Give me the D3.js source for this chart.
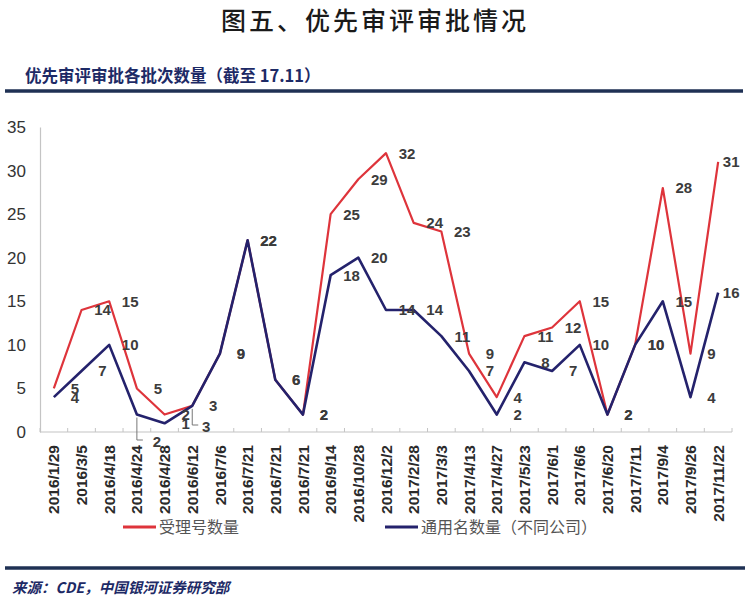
<!DOCTYPE html>
<html>
<head>
<meta charset="utf-8">
<script src="https://cdn.jsdelivr.net/npm/d3@7"></script>
<style>
  body { margin: 0; background: #fff; }
</style>
</head>
<body>
<div class="container"></div>
<script>
var w = 750;
var h = 606;

// batch dates (x categories)
const batches = [
  "2016/1/29", "2016/3/5", "2016/4/18", "2016/4/24", "2016/4/28",
  "2016/6/12", "2016/7/6", "2016/7/21", "2016/7/21", "2016/7/21",
  "2016/9/14", "2016/10/28", "2016/12/2", "2017/2/28", "2017/3/3",
  "2017/4/13", "2017/4/27", "2017/5/23", "2017/6/1", "2017/6/6",
  "2017/6/20", "2017/7/11", "2017/9/4", "2017/9/26", "2017/11/22"
];

// 受理号数量
const acceptCounts = [5, 14, 15, 5, 2, 3, 9, 22, 6, 2, 25, 29, 32, 24, 23, 9, 4, 11, 12, 15, 2, 10, 28, 9, 31];
// 通用名数量（不同公司）
const genericCounts = [4, 7, 10, 2, 1, 3, 9, 22, 6, 2, 18, 20, 14, 14, 11, 7, 2, 8, 7, 10, 2, 10, 15, 4, 16];

const yTicks = [0, 5, 10, 15, 20, 25, 30, 35];

const seriesNames = ["受理号数量", "通用名数量（不同公司）"];

const redColor = "#de343b";
const navyColor = "#24226c";
const labelFont = "'Liberation Sans', Arial, sans-serif";
const cjkFont = "'Noto Sans CJK SC', sans-serif";

var svg = d3
  .select(".container")
  .append("svg")
  .attr("width", w)
  .attr("height", h);

svg.append("rect").attr("width", w).attr("height", h).attr("fill", "#fff");

// title
svg
  .append("text")
  .attr("x", 375)
  .attr("y", 30)
  .attr("text-anchor", "middle")
  .attr("font-family", cjkFont)
  .attr("font-size", 25)
  .attr("font-weight", 500)
  .attr("letter-spacing", 3)
  .attr("fill", "#1a1a1a")
  .text("图五、优先审评审批情况");

// subtitle
svg
  .append("text")
  .attr("x", 25)
  .attr("y", 82)
  .attr("font-family", cjkFont)
  .attr("font-size", 16.5)
  .attr("font-weight", 700)
  .attr("fill", "#1d2a66")
  .text("优先审评审批各批次数量（截至 17.11）");

// heavy rules top / bottom
svg.append("line").attr("x1", 5).attr("x2", 743).attr("y1", 91).attr("y2", 91)
  .attr("stroke", "#1f3154").attr("stroke-width", 3.5);
svg.append("line").attr("x1", 5).attr("x2", 745).attr("y1", 568).attr("y2", 568)
  .attr("stroke", "#1f3154").attr("stroke-width", 3.5);

// source
svg
  .append("text")
  .attr("x", 12)
  .attr("y", 593)
  .attr("font-family", cjkFont)
  .attr("font-size", 14.5)
  .attr("font-style", "italic")
  .attr("font-weight", 700)
  .attr("fill", "#1d2a66")
  .text("来源：CDE，中国银河证券研究部");

// plot area
var plotLeft = 40, plotRight = 732, plotTop = 127, plotBottom = 432;

var xScale = d3.scaleBand()
  .domain(d3.range(batches.length))
  .range([plotLeft, plotRight]);

var yScale = d3.scaleLinear().domain([0, 35]).range([plotBottom, plotTop]);

var cx = (i) => xScale(i) + xScale.bandwidth() / 2;

// y axis
var y_axis = d3.axisLeft(yScale).tickValues(yTicks).tickSize(0).tickPadding(14);
var gy = svg.append("g").attr("transform", "translate(" + plotLeft + ",0)").call(y_axis);
gy.select(".domain").attr("stroke", "#c4c4c4").attr("stroke-width", 1.2);
gy.selectAll("text")
  .attr("font-family", labelFont)
  .attr("font-size", 17)
  .attr("fill", "#333");

// x axis line with boundary ticks
svg.append("line").attr("x1", plotLeft).attr("x2", plotRight).attr("y1", plotBottom).attr("y2", plotBottom)
  .attr("stroke", "#c4c4c4").attr("stroke-width", 1.2);
svg.append("g")
  .selectAll("line")
  .data(d3.range(batches.length + 1))
  .enter()
  .append("line")
  .attr("x1", (i) => i < batches.length ? xScale(i) : plotRight)
  .attr("x2", (i) => i < batches.length ? xScale(i) : plotRight)
  .attr("y1", plotBottom - 4)
  .attr("y2", plotBottom)
  .attr("stroke", "#c4c4c4");

// rotated category labels
svg.append("g")
  .selectAll("text")
  .data(batches)
  .enter()
  .append("text")
  .attr("transform", (d, i) => "translate(" + cx(i) + "," + (plotBottom + 13) + ") rotate(-90)")
  .attr("text-anchor", "end")
  .attr("dy", "0.36em")
  .attr("font-family", labelFont)
  .attr("font-size", 15.5)
  .attr("font-weight", 700)
  .attr("fill", "#2a2a2a")
  .text((d) => d);

// lines
var line = d3.line()
  .x((d, i) => cx(i))
  .y((d) => yScale(d));

svg.append("path")
  .datum(acceptCounts)
  .attr("d", line)
  .attr("fill", "none")
  .attr("stroke", redColor)
  .attr("stroke-width", 2.2)
  .attr("stroke-linejoin", "round");

svg.append("path")
  .datum(genericCounts)
  .attr("d", line)
  .attr("fill", "none")
  .attr("stroke", navyColor)
  .attr("stroke-width", 2.6)
  .attr("stroke-linejoin", "round");

// label placement: default to the right of each point
function labelX(i) {
  return cx(i) + (i === batches.length - 1 ? 13 : 21);
}

// a couple of navy labels were pushed down with leader lines
const leaderIdx = { 3: [20, 10], 5: [14, -5] };

function drawLabels(values, isGeneric) {
  svg.append("g")
    .selectAll("text")
    .data(values)
    .enter()
    .append("text")
    .attr("x", (d, i) => isGeneric && leaderIdx[i] ? cx(i) + leaderIdx[i][0] : labelX(i))
    .attr("y", (d, i) => isGeneric && leaderIdx[i] ? plotBottom + leaderIdx[i][1] : yScale(d))
    .attr("dy", "0.36em")
    .attr("text-anchor", "middle")
    .attr("font-family", labelFont)
    .attr("font-size", 15)
    .attr("font-weight", 700)
    .attr("fill", "#3c3c3c")
    .text((d) => d);
}

drawLabels(acceptCounts, false);
drawLabels(genericCounts, true);

// leader lines
Object.keys(leaderIdx).forEach(function (k) {
  var i = +k;
  var px = cx(i);
  var py = yScale(genericCounts[i]) + 3;
  var ly = plotBottom + leaderIdx[i][1] - 2;
  svg.append("path")
    .attr("d", "M" + px + "," + py + "V" + ly + "H" + (px + 6))
    .attr("fill", "none")
    .attr("stroke", "#777")
    .attr("stroke-width", 1);
});

// legend
var legend = [
  { name: seriesNames[0], color: redColor, x: 123 },
  { name: seriesNames[1], color: navyColor, x: 385 }
];
var lg = svg.append("g").selectAll("g").data(legend).enter().append("g")
  .attr("transform", (d) => "translate(" + d.x + ",527)");
lg.append("line").attr("x1", 0).attr("x2", 33).attr("y1", 0).attr("y2", 0)
  .attr("stroke", (d) => d.color).attr("stroke-width", 3);
lg.append("text")
  .attr("x", 36)
  .attr("dy", "0.36em")
  .attr("font-family", cjkFont)
  .attr("font-size", 16)
  .attr("fill", "#555")
  .text((d) => d.name);
</script>
</body>
</html>
